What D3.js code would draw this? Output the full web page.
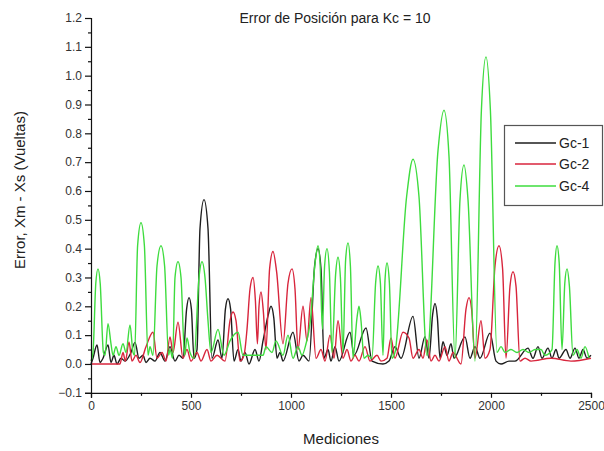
<!DOCTYPE html>
<html><head><meta charset="utf-8">
<script src="https://cdn.jsdelivr.net/npm/d3@7"></script>
<style>body{margin:0;background:#fff}svg{display:block}text{font-family:Arial,"Liberation Sans",sans-serif}</style>
</head><body>
<svg id="c" width="604" height="451"></svg>
<script>
const title = "Error de Posición para Kc = 10";
const xLabel = "Mediciones";
const yLabel = "Error, Xm - Xs (Vueltas)";
const seriesNames = ["Gc-1", "Gc-2", "Gc-4"];
const seriesColors = ["#1e1e1e", "#d8253c", "#3edc3e"];
const xTickValues = [0, 500, 1000, 1500, 2000, 2500];
const yTickValues = [-0.1,0,0.1,0.2,0.3,0.4,0.5,0.6,0.7,0.8,0.9,1.0,1.1,1.2];

const gc1 = [[0,0.0],[10,0.02],[30,0.066],[45,0.005],[60,0.02],[85,0.066],[100,0.005],[115,0.03],[130,0.0],[150,0.02],[170,0.01],[200,0.04],[220,0.075],[240,0.02],[260,0.03],[275,0.005],[295,0.02],[320,0.01],[345,0.04],[370,0.01],[395,0.06],[420,0.01],[440,0.03],[460,0.02],[478,0.19],[490,0.23],[502,0.19],[515,0.02],[530,0.05],[545,0.47],[565,0.57],[585,0.47],[605,0.02],[635,0.083],[655,0.02],[672,0.19],[685,0.226],[698,0.19],[715,0.01],[735,0.05],[750,0.01],[770,0.04],[790,0.0],[820,0.05],[840,0.01],[860,0.08],[886,0.17],[900,0.2],[914,0.16],[930,0.02],[945,0.04],[960,0.01],[1010,0.11],[1040,0.01],[1060,0.03],[1090,0.01],[1118,0.34],[1135,0.40],[1150,0.33],[1165,0.02],[1185,0.05],[1200,0.01],[1220,0.06],[1240,0.01],[1295,0.11],[1315,0.03],[1375,0.125],[1405,0.01],[1460,0.0],[1490,0.01],[1520,0.06],[1550,0.02],[1610,0.165],[1640,0.02],[1670,0.095],[1690,0.02],[1708,0.17],[1720,0.21],[1732,0.16],[1745,0.02],[1760,0.077],[1780,0.03],[1800,0.07],[1815,0.02],[1870,0.094],[1895,0.02],[1920,0.06],[1945,0.02],[1995,0.107],[2025,0.01],[2050,0.0],[2090,0.01],[2120,0.01],[2185,0.055],[2210,0.02],[2235,0.06],[2255,0.02],[2285,0.055],[2305,0.02],[2325,0.05],[2340,0.02],[2375,0.05],[2395,0.02],[2420,0.055],[2440,0.02],[2460,0.05],[2480,0.02],[2500,0.03]];

const gc2 = [[0,0.0],[145,0.0],[160,0.04],[172,0.01],[190,0.076],[205,0.01],[225,0.03],[245,0.005],[275,0.06],[310,0.11],[330,0.02],[355,0.04],[375,0.01],[395,0.094],[410,0.04],[435,0.145],[460,0.02],[480,0.05],[500,0.01],[530,0.04],[550,0.01],[580,0.05],[600,0.01],[630,0.03],[670,0.01],[695,0.15],[710,0.18],[725,0.15],[745,0.01],[765,0.03],[780,0.12],[795,0.26],[810,0.30],[822,0.22],[832,0.07],[840,0.2],[850,0.25],[862,0.18],[875,0.05],[893,0.33],[910,0.39],[928,0.32],[960,0.07],[985,0.28],[1005,0.33],[1020,0.26],[1035,0.05],[1060,0.2],[1080,0.08],[1100,0.23],[1125,0.02],[1150,0.05],[1170,0.01],[1195,0.1],[1215,0.02],[1235,0.15],[1260,0.02],[1280,0.05],[1300,0.01],[1320,0.03],[1340,0.01],[1370,0.06],[1395,0.01],[1430,0.03],[1450,0.01],[1480,0.02],[1500,0.09],[1520,0.02],[1560,0.11],[1590,0.09],[1610,0.02],[1640,0.05],[1660,0.02],[1680,0.083],[1700,0.01],[1720,0.03],[1740,0.01],[1770,0.06],[1790,0.01],[1810,0.04],[1850,0.0],[1875,0.19],[1890,0.23],[1903,0.19],[1920,0.02],[1950,0.15],[1970,0.02],[1995,0.05],[2020,0.34],[2040,0.41],[2058,0.33],[2075,0.02],[2095,0.27],[2110,0.32],[2125,0.27],[2145,0.01],[2170,0.02],[2200,0.01],[2300,0.02],[2400,0.01],[2500,0.02]];

const gc4 = [[0,0.01],[10,0.04],[24,0.28],[35,0.33],[46,0.28],[62,0.04],[70,0.03],[85,0.14],[100,0.07],[110,0.03],[125,0.06],[140,0.03],[160,0.07],[175,0.04],[195,0.135],[210,0.04],[218,0.03],[233,0.41],[250,0.49],[267,0.41],[285,0.03],[295,0.06],[310,0.03],[330,0.34],[350,0.41],[368,0.34],[388,0.03],[395,0.05],[408,0.02],[420,0.3],[435,0.355],[450,0.3],[468,0.03],[480,0.09],[495,0.04],[515,0.02],[540,0.3],[555,0.355],[570,0.3],[585,0.15],[600,0.04],[635,0.12],[665,0.03],[695,0.08],[735,0.11],[760,0.03],[780,0.03],[860,0.03],[875,0.06],[905,0.04],[925,0.08],[960,0.03],[985,0.1],[1010,0.02],[1035,0.06],[1055,0.03],[1075,0.07],[1095,0.14],[1122,0.36],[1135,0.41],[1146,0.34],[1157,0.12],[1168,0.34],[1180,0.40],[1192,0.32],[1205,0.04],[1223,0.31],[1235,0.37],[1247,0.3],[1260,0.04],[1273,0.36],[1285,0.42],[1297,0.34],[1310,0.02],[1330,0.16],[1340,0.2],[1350,0.15],[1365,0.02],[1385,0.03],[1405,0.02],[1423,0.28],[1435,0.34],[1447,0.28],[1460,0.03],[1470,0.29],[1480,0.35],[1492,0.28],[1505,0.02],[1520,0.04],[1578,0.58],[1610,0.71],[1640,0.58],[1680,0.03],[1735,0.74],[1765,0.88],[1790,0.72],[1820,0.02],[1845,0.57],[1865,0.69],[1885,0.57],[1920,0.01],[1952,0.88],[1975,1.065],[1997,0.88],[2030,0.04],[2050,0.06],[2070,0.04],[2100,0.05],[2130,0.04],[2160,0.05],[2190,0.04],[2220,0.05],[2250,0.05],[2270,0.03],[2305,0.05],[2320,0.35],[2330,0.41],[2341,0.35],[2355,0.05],[2369,0.28],[2380,0.33],[2392,0.27],[2410,0.03],[2430,0.05],[2450,0.02],[2470,0.06],[2490,0.02]];

const allSeries = [gc1, gc2, gc4];

const svg = d3.select("#c");
const x = d3.scaleLinear().domain([0, 2500]).range([91, 591]);
const y = d3.scaleLinear().domain([-0.1, 1.2]).range([392.8, 18]);

// plot lines
const line = d3.line().x(d => x(d[0])).y(d => y(d[1])).curve(d3.curveMonotoneX);
allSeries.forEach((s, i) => {
  svg.append("path").datum(s).attr("d", line)
    .attr("fill", "none").attr("stroke", seriesColors[i]).attr("stroke-width", 1.4)
    .attr("stroke-linejoin", "round");
});

// axes
const xAxis = d3.axisBottom(x).tickValues(xTickValues).tickSize(5).tickPadding(4).tickFormat(d3.format("d"));
svg.append("g").attr("transform", `translate(0,${y(-0.1)})`).call(xAxis);
const xMinor = d3.axisBottom(x).tickValues([250,750,1250,1750,2250]).tickSize(3).tickFormat("");
svg.append("g").attr("transform", `translate(0,${y(-0.1)})`).call(xMinor).select(".domain").remove();

const yAxis = d3.axisLeft(y).tickValues(yTickValues).tickSize(6).tickPadding(3).tickFormat(d3.format(".1f"));
svg.append("g").attr("transform", `translate(${x(0)},0)`).call(yAxis);
const yMinorVals = yTickValues.slice(0, -1).map(v => v + 0.05);
svg.append("g").attr("transform", `translate(${x(0)},0)`)
  .call(d3.axisLeft(y).tickValues(yMinorVals).tickSize(3).tickFormat("")).select(".domain").remove();

svg.selectAll(".domain").attr("stroke", "#111").attr("stroke-width", 1.2);
svg.selectAll(".tick line").attr("stroke", "#111").attr("stroke-width", 1.2);
svg.selectAll(".tick text").attr("font-size", 12).attr("fill", "#333").attr("font-family", "Arial, 'Liberation Sans', sans-serif");

// title and labels
svg.append("text").attr("x", 335).attr("y", 23).attr("text-anchor", "middle")
  .attr("font-size", 14).attr("fill", "#222").text(title);
svg.append("text").attr("x", 341).attr("y", 444).attr("text-anchor", "middle")
  .attr("font-size", 15).attr("fill", "#222").text(xLabel);
svg.append("text").attr("transform", "translate(25,190) rotate(-90)").attr("text-anchor", "middle")
  .attr("font-size", 15).attr("fill", "#222").text(yLabel);

// legend
const lg = svg.append("g");
lg.append("rect").attr("x", 504.5).attr("y", 125.5).attr("width", 98).attr("height", 80)
  .attr("fill", "#fff").attr("stroke", "#555").attr("stroke-width", 1.2);
const legY = [143, 164, 186];
seriesNames.forEach((n, i) => {
  lg.append("line").attr("x1", 515).attr("x2", 556).attr("y1", legY[i]).attr("y2", legY[i])
    .attr("stroke", seriesColors[i]).attr("stroke-width", 1.4);
  lg.append("text").attr("x", 559).attr("y", legY[i] + 5).attr("font-size", 14).attr("fill", "#222").text(n);
});
</script>
</body></html>
